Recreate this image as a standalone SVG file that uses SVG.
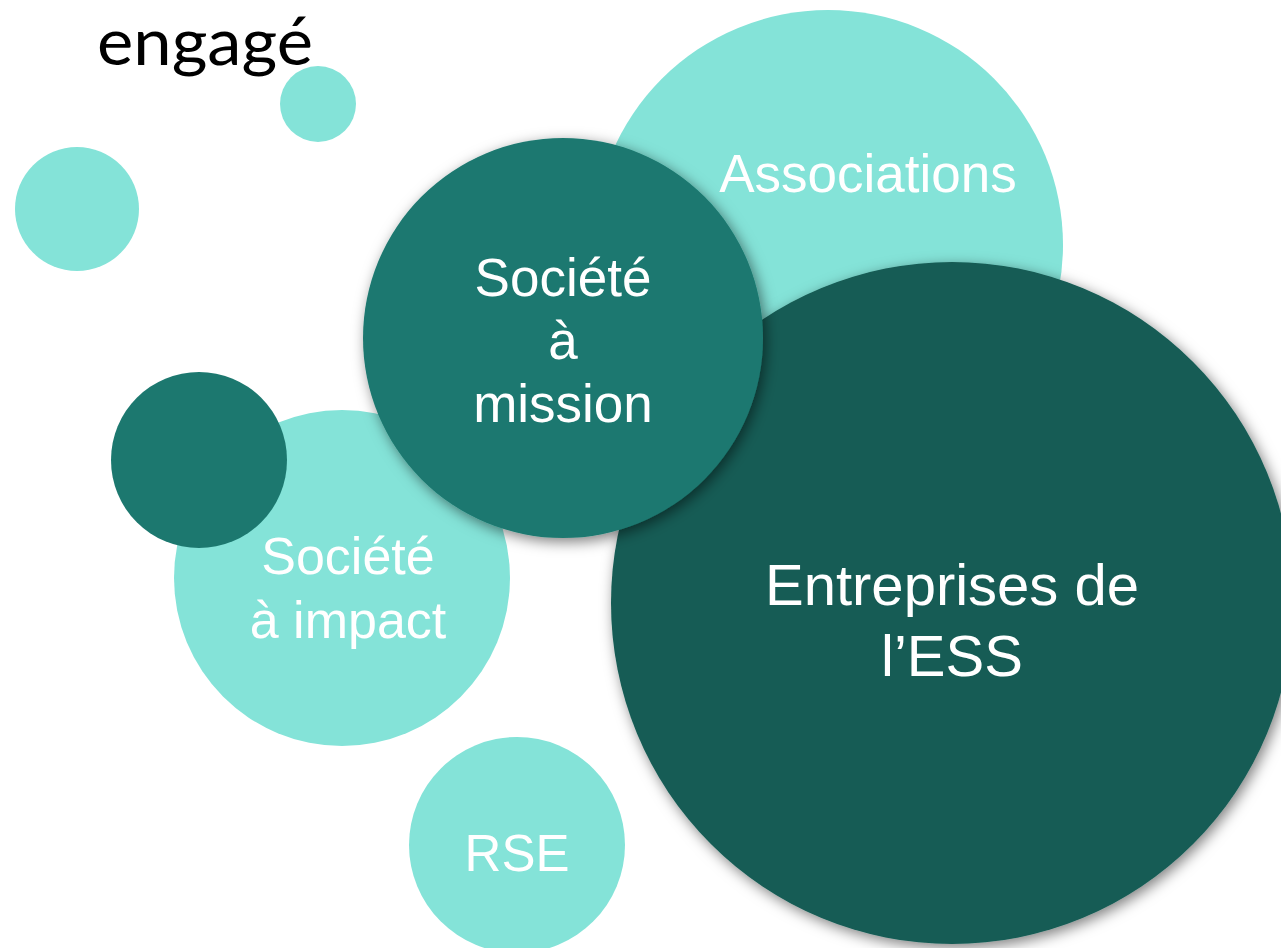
<svg xmlns="http://www.w3.org/2000/svg" width="1281" height="948" viewBox="0 0 1281 948">
<style>
.light{fill:#84E3D8}
.mid{fill:#1C786F}
.dark{fill:#165B54}
.lbl{font-family:"Liberation Sans",Arial,sans-serif;fill:#FFFFFF;text-anchor:middle}
.title{font-family:Lato,"Open Sans","Liberation Sans",sans-serif;fill:#000000;font-size:66px}
</style>
<defs>
<filter id="sh" x="-20%" y="-20%" width="140%" height="140%">
<feDropShadow dx="3" dy="4" stdDeviation="7" flood-color="#000000" flood-opacity="0.5"/>
</filter>
</defs>
<rect width="1281" height="948" fill="#FFFFFF"/>
<text class="title" x="97" y="65" textLength="216" lengthAdjust="spacingAndGlyphs">engagé</text>
<g id="dot-top"><circle class="light" cx="318" cy="104" r="38"/></g>
<g id="dot-left"><circle class="light" cx="77" cy="209" r="62"/></g>
<g id="associations"><circle class="light" cx="828" cy="245" r="235"/>
<text class="lbl" x="868" y="192" font-size="53">Associations</text></g>
<g id="impact"><circle class="light" cx="342" cy="578" r="168"/>
<text class="lbl" x="348" y="574" font-size="52">Société</text>
<text class="lbl" x="348" y="638" font-size="52">à impact</text></g>
<g id="dot-dark"><circle class="mid" cx="199" cy="460" r="88"/></g>
<g id="rse"><circle class="light" cx="517" cy="845" r="108"/>
<text class="lbl" x="517" y="871" font-size="51">RSE</text></g>
<g id="ess"><circle class="dark" cx="952" cy="603" r="341" filter="url(#sh)"/>
<text class="lbl" x="952" y="605" font-size="58">Entreprises de</text>
<text class="lbl" x="952" y="676" font-size="58">l’ESS</text></g>
<g id="mission"><circle class="mid" cx="563" cy="338" r="200" filter="url(#sh)"/>
<text class="lbl" x="563" y="296" font-size="53">Société</text>
<text class="lbl" x="563" y="359" font-size="53">à</text>
<text class="lbl" x="563" y="422" font-size="53">mission</text></g>
<g id="connectors"></g>
</svg>
